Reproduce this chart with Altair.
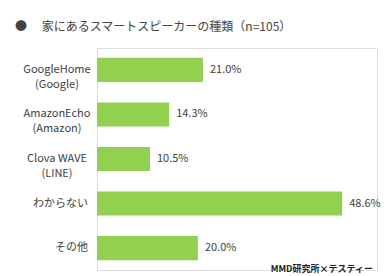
import altair as alt
import pandas as pd

categories = ["GoogleHome\n(Google)", "AmazonEcho\n(Amazon)", "Clova WAVE\n(LINE)", "わからない", "その他"]
values = [21.0, 14.3, 10.5, 48.6, 20.0]
title_text = "●　 家にあるスマートスピーカーの種類（n=105）"
source_text = "MMD研究所×テスティー"

df = pd.DataFrame({
    "cat": categories,
    "val": values,
    "label": [f"{v:.1f}%" for v in values],
    "multi": ["\n" in c for c in categories],
})

FONT = "Noto Sans CJK JP"
GREEN = "#92D050"
TXT = "#404040"

y = alt.Y("cat:N", sort=categories,
          scale=alt.Scale(paddingInner=0.46, paddingOuter=0.22),
          axis=alt.Axis(labels=False, ticks=False, domain=True, domainColor="#d9d9d9",
                        title=None, grid=False))
x = alt.X("val:Q", scale=alt.Scale(domain=[0, 55.5]), axis=None)

base = alt.Chart(df)

bars = base.mark_bar(color=GREEN).encode(x=x, y=y)

vals = base.mark_text(align="left", baseline="middle", dx=7, font=FONT, fontSize=11, color=TXT).encode(
    x=x, y=alt.Y("cat:N", sort=categories), text="label:N")

lab_multi = base.transform_filter("datum.multi").mark_text(
    align="center", baseline="middle", font=FONT, fontSize=11, color=TXT, lineHeight=15, lineBreak="\n"
).encode(x=alt.value(-40), y=alt.Y("cat:N", sort=categories), text="cat:N")

lab_single = base.transform_filter("!datum.multi").mark_text(
    align="right", baseline="middle", font=FONT, fontSize=11, color=TXT
).encode(x=alt.value(-9), y=alt.Y("cat:N", sort=categories), text="cat:N")

src = alt.Chart(pd.DataFrame({"t": [source_text]})).mark_text(
    align="right", baseline="middle", font=FONT, fontSize=9, fontWeight="bold", color="#222222"
).encode(x=alt.value(276), y=alt.value(221), text="t:N")

chart = alt.layer(bars, vals, lab_multi, lab_single, src).properties(
    width=280, height=222,
    title=alt.TitleParams(title_text, anchor="start", frame="group", font=FONT, fontSize=12,
                          fontWeight="normal", color="#444444", dx=-82, offset=14),
    autosize=alt.AutoSizeParams(type="none"),
    padding={"left": 97, "top": 48, "right": 13, "bottom": 6},
).configure_view(stroke=None).configure(background="white")

chart.save("out.html", embed_options={"renderer": "svg", "actions": False})
